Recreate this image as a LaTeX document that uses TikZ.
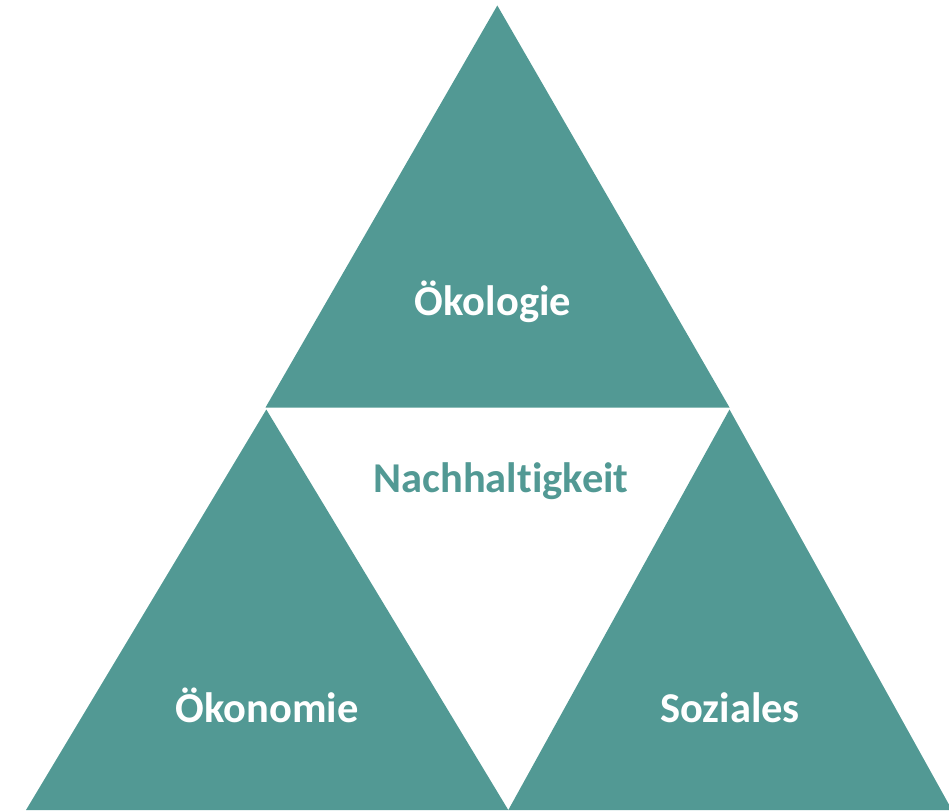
\documentclass[tikz,border=0pt]{standalone}
\usepackage{fontspec}
\setmainfont[Ligatures=NoCommon]{Carlito}
\definecolor{teal1}{RGB}{82,153,148}
\begin{document}
\begin{tikzpicture}[x=1pt,y=-1pt,
  tri/.style={fill=teal1,draw=none},
  lbl/.style={font=\fontsize{42.5}{50}\selectfont\bfseries,anchor=base,inner sep=0pt},
  wlbl/.style={lbl,text=white},
  clbl/.style={lbl,text=teal1}]
\useasboundingbox (0,0) rectangle (949,810);
\coordinate (tA) at (497.3,5.5);
\coordinate (tL) at (265.5,407.5);
\coordinate (tR) at (729.5,407.5);
\coordinate (lA) at (266.3,409.5);
\coordinate (lL) at (26,810);
\coordinate (lR) at (508.3,810);
\coordinate (rA) at (729.5,409.5);
\coordinate (rL) at (508.3,810);
\coordinate (rR) at (952,810);
\fill[tri] (tA) -- (tL) -- (tR) -- cycle;
\fill[tri] (lA) -- (lL) -- (lR) -- cycle;
\fill[tri] (rA) -- (rL) -- (rR) -- cycle;
\node[wlbl] (oeko) at (493,315) {Ökologie};
\node[clbl] (nach) at (501,492) {Nachhaltigkeit};
\node[wlbl] (oekon) at (267,722) {Ökonomie};
\node[wlbl] (soz) at (730,722) {Soziales};
\end{tikzpicture}
\end{document}
